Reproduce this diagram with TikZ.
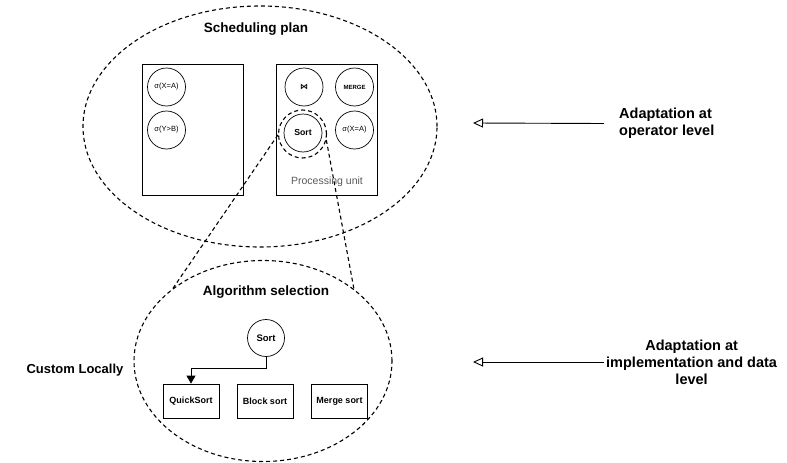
\documentclass[tikz,border=0pt]{standalone}
\usepackage{fontspec}
\setmainfont{Liberation Sans}
\newfontfamily\symfont{DejaVu Sans}
\usetikzlibrary{shapes.geometric,arrows.meta}
\begin{document}
\begin{tikzpicture}[x=1pt,y=-1pt,
  dashline/.style={line width=1.1pt, dash pattern=on 4pt off 3pt},
  region/.style={ellipse, draw, dashline, inner sep=0pt, outer sep=0pt},
  unitbox/.style={draw, line width=0.8pt, inner sep=0pt, minimum width=101pt, minimum height=131pt},
  opnode/.style={circle, draw, line width=0.7pt, inner sep=0pt, minimum size=38pt, font=\fontsize{7.5}{9}\selectfont},
  algbox/.style={draw, line width=0.8pt, minimum width=56pt, minimum height=34pt, inner sep=0pt, font=\bfseries\fontsize{9}{11}\selectfont},
  regiontitle/.style={font=\bfseries\fontsize{13.5}{16}\selectfont},
  sidelabel/.style={font=\bfseries\fontsize{14.5}{17}\selectfont},
]
\useasboundingbox (0,0) rectangle (787,463);

% top region
\node[region, minimum width=354pt, minimum height=241pt] (plan) at (260,126.5) {};
\node[regiontitle] (plantitle) at (256,29) {Scheduling plan};
\node[unitbox] (boxA) at (192.5,129.5) {};
\node[unitbox] (boxB) at (327,129.5) {};
\node[opnode] (selA) at (166.5,87) {σ(X=A)};
\node[opnode] (selB) at (166.5,130) {σ(Y>B)};
\node[opnode, font=\symfont\bfseries\fontsize{8}{9}\selectfont] (join) at (304,87) {⋈};
\node[opnode, font=\bfseries\fontsize{6}{7}\selectfont] (merge) at (354.5,87) {MERGE};
\node[opnode, font=\bfseries\fontsize{8.7}{10}\selectfont] (sortA) at (303,133) {Sort};
\node[opnode] (selC) at (354.5,130) {σ(X=A)};
\node[circle, draw, dashline, minimum size=48pt, inner sep=0pt] (focus) at (302.5,134) {};
\node[font=\fontsize{10.5}{12}\selectfont, text=black!65] (pu) at (327,182) {Processing unit};

% bottom region
\node[region, minimum width=258pt, minimum height=201pt] (alg) at (263,361) {};
\node[regiontitle] (algtitle) at (266,292) {Algorithm selection};
\node[opnode, minimum size=37pt, font=\bfseries\fontsize{9.5}{11}\selectfont] (sortB) at (266,338) {Sort};
\node[algbox] (quick) at (191,401) {QuickSort};
\node[algbox] (block) at (265,401) {Block sort};
\node[algbox] (mergesort) at (339.5,401) {Merge sort};
\coordinate (bend) at (191,368);
\draw[line width=0.8pt, -{Triangle[length=8pt,width=9pt]}] (sortB.south) |- (bend) -- (quick.north);

% zoom lines
\draw[dashline] (focus.182) -- (alg.142);
\draw[dashline] (focus.346) -- (alg.38);

% side labels
\node[sidelabel, font=\bfseries\fontsize{13}{16}\selectfont] (custom) at (75,370) {Custom Locally};
\node[sidelabel, align=left, anchor=west, inner xsep=15pt, inner ysep=0pt] (lab1) at (604,123.5) {Adaptation at\\operator level};
\coordinate (tip1) at (473,123);
\draw[line width=0.9pt, -{Triangle[open,length=10pt,width=9pt]}] (lab1.west) -- (tip1);
\node[sidelabel, align=center, anchor=west, inner xsep=2pt, inner ysep=0pt] (lab2) at (604,362) {Adaptation at\\implementation and data\\level};
\coordinate (tip2) at (473,362);
\draw[line width=0.9pt, -{Triangle[open,length=10pt,width=9pt]}] (lab2.west) -- (tip2);
\end{tikzpicture}
\end{document}
